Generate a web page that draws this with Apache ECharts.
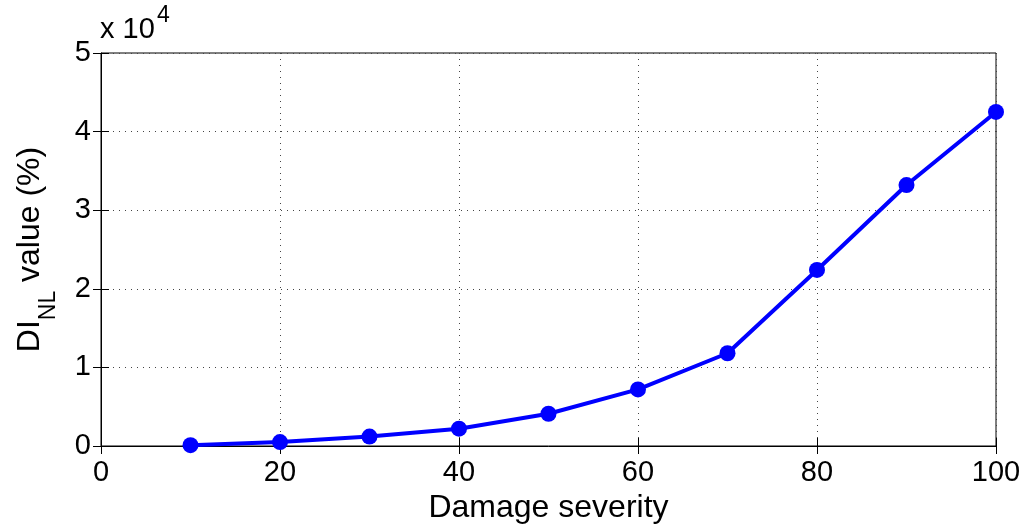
<!DOCTYPE html>
<html>
<head>
<meta charset="utf-8">
<script src="https://cdn.jsdelivr.net/npm/echarts@6/dist/echarts.min.js"></script>
<style>
html,body{margin:0;padding:0;background:#fff;}
#c{width:1034px;height:526px;}
</style>
</head>
<body>
<div id="c"></div>
<script>
const severity = [10, 20, 30, 40, 50, 60, 70, 80, 90, 100];
const diValues = [0.01, 0.05, 0.12, 0.22, 0.41, 0.72, 1.18, 2.24, 3.32, 4.25];
const xTicks = [0, 20, 40, 60, 80, 100];
const yTicks = [0, 1, 2, 3, 4, 5];

const FONT = '"Liberation Sans", Arial, sans-serif';
const chart = echarts.init(document.getElementById('c'));
const data = severity.map((s, i) => [s, diValues[i]]);

const tickStyle = {inside: true, length: 8, lineStyle: {color: '#000', width: 1}};
chart.setOption({
  animation: false,
  backgroundColor: '#fff',
  grid: {left: 101, right: 38, top: 53, bottom: 80, outerBoundsMode: 'none', containLabel: false,
         show: true, borderColor: '#000', borderWidth: 1, backgroundColor: 'transparent'},
  graphic: [
    {type: 'text', left: 100, top: 15, style: {text: 'x 10', fontFamily: FONT, fontSize: 29, fill: '#000'}},
    {type: 'text', left: 157, top: 4, style: {text: '4', fontFamily: FONT, fontSize: 23, fill: '#000'}}
  ],
  xAxis: [{
    type: 'value', min: xTicks[0], max: xTicks[xTicks.length - 1], interval: 20,
    name: 'Damage severity', nameLocation: 'middle', nameGap: 40,
    nameTextStyle: {fontFamily: FONT, fontSize: 32, color: '#000'},
    axisLine: {show: true, lineStyle: {color: '#000'}},
    axisTick: tickStyle,
    axisLabel: {fontFamily: FONT, fontSize: 29, color: '#000', margin: 12},
    splitLine: {show: true, lineStyle: {color: '#444', type: [1, 5], width: 1}}
  }, {
    type: 'value', position: 'top', min: 0, max: 100, interval: 20,
    axisLine: {show: false}, axisTick: tickStyle, axisLabel: {show: false}, splitLine: {show: false}
  }],
  yAxis: [{
    type: 'value', min: yTicks[0], max: yTicks[yTicks.length - 1], interval: 1,
    name: '{a|DI}{b|NL}{a| value (%)}', nameLocation: 'middle', nameGap: 41, nameRotate: 90,
    nameTextStyle: {
      rich: {
        a: {fontFamily: FONT, fontSize: 32, color: '#000', verticalAlign: 'top', padding: [0, 0, 14, 0]},
        b: {fontFamily: FONT, fontSize: 23, color: '#000', verticalAlign: 'bottom'}
      }
    },
    axisLine: {show: true, lineStyle: {color: '#000'}},
    axisTick: tickStyle,
    axisLabel: {fontFamily: FONT, fontSize: 29, color: '#000', margin: 10},
    splitLine: {show: true, lineStyle: {color: '#444', type: [1, 5], width: 1}}
  }, {
    type: 'value', position: 'right', min: 0, max: 5, interval: 1,
    axisLine: {show: false}, axisTick: tickStyle, axisLabel: {show: false}, splitLine: {show: false}
  }],
  series: [{
    type: 'line', data: data,
    symbol: 'circle', symbolSize: 16,
    lineStyle: {color: '#0000ff', width: 4},
    itemStyle: {color: '#0000ff'},
    z: 5
  }]
});
</script>
</body>
</html>
